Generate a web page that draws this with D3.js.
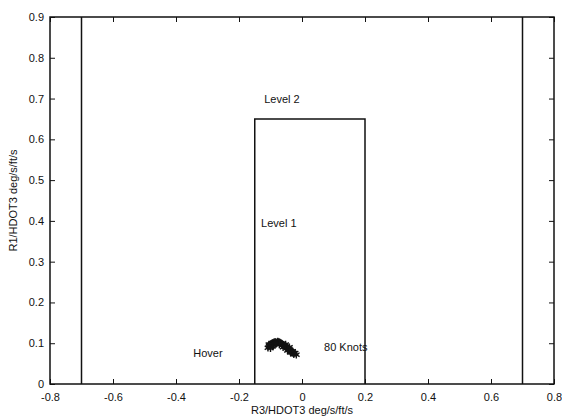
<!DOCTYPE html>
<html>
<head>
<meta charset="utf-8">
<script src="https://cdn.jsdelivr.net/npm/d3@7"></script>
<style>
  body { margin: 0; background: #fff; }
  svg { display: block; font-family: "Liberation Sans", Arial, sans-serif; }
  .tick text { font-size: 11px; fill: #111; }
  .lbl { font-size: 11px; fill: #111; }
</style>
</head>
<body>
<svg id="chart" width="562" height="420"></svg>
<script>
// outer limits, vertical lines at +-0.7
var xTicks = [-0.8, -0.6, -0.4, -0.2, 0, 0.2, 0.4, 0.6, 0.8];
var yTicks = [0, 0.1, 0.2, 0.3, 0.4, 0.5, 0.6, 0.7, 0.8, 0.9];
var outerLines = [
  [[-0.7, 0], [-0.7, 0.9]],
  [[0.7, 0], [0.7, 0.9]]
];
// level 1 / level 2 boundary
var innerBox = [[-0.15, 0], [-0.15, 0.65], [0.2, 0.65], [0.2, 0]];
// measured points, hover to 80 knots
var ptsX = [-0.108, -0.104, -0.101, -0.098, -0.095, -0.092, -0.089, -0.086, -0.083, -0.080,
            -0.077, -0.074, -0.071, -0.068, -0.065, -0.062, -0.059, -0.056, -0.053, -0.050,
            -0.047, -0.044, -0.041, -0.038, -0.035, -0.032, -0.029, -0.026, -0.100, -0.090,
            -0.072, -0.060, -0.046, -0.036, -0.030, -0.105, -0.094, -0.085, -0.052, -0.040,
            -0.022, -0.018];
var ptsY = [0.089, 0.093, 0.096, 0.098, 0.100, 0.101, 0.102, 0.103, 0.103, 0.101,
            0.104, 0.103, 0.102, 0.100, 0.099, 0.097, 0.096, 0.094, 0.092, 0.091,
            0.089, 0.087, 0.085, 0.083, 0.081, 0.078, 0.076, 0.073, 0.088, 0.095,
            0.097, 0.090, 0.082, 0.077, 0.080, 0.097, 0.092, 0.098, 0.097, 0.090,
            0.076, 0.072];
var labels = [
  { text: "Level 2", x: -0.12, y: 0.69 },
  { text: "Level 1", x: -0.13, y: 0.385 },
  { text: "Hover", x: -0.345, y: 0.065 },
  { text: "80 Knots", x: 0.07, y: 0.08 }
];

var margin = { top: 17, right: 8, bottom: 36, left: 50 },
  W = 562, H = 420,
  width = W - margin.left - margin.right,
  height = H - margin.top - margin.bottom;

var svg = d3.select("#chart");
var g = svg.append("g").attr("transform", "translate(" + margin.left + "," + margin.top + ")");

var x = d3.scaleLinear().domain([-0.8, 0.8]).range([0, width]);
var y = d3.scaleLinear().domain([0, 0.9]).range([height, 0]);

// plain hyphen for negatives, like the original plot
var fmt = function (d) { return d === 0 ? "0" : d3.format(".1f")(d).replace("\u2212", "-"); };

g.append("g")
  .attr("transform", "translate(0," + height + ")")
  .call(d3.axisBottom(x).tickValues(xTicks).tickFormat(fmt).tickSizeInner(-5).tickSizeOuter(0).tickPadding(9));
g.append("g")
  .call(d3.axisLeft(y).tickValues(yTicks).tickFormat(fmt).tickSizeInner(-5).tickSizeOuter(0).tickPadding(6));
g.append("g")
  .call(d3.axisTop(x).tickValues(xTicks).tickFormat("").tickSizeInner(-5).tickSizeOuter(0));
g.append("g")
  .attr("transform", "translate(" + width + ",0)")
  .call(d3.axisRight(y).tickValues(yTicks).tickFormat("").tickSizeInner(-5).tickSizeOuter(0));

g.selectAll(".domain").remove();
g.selectAll(".tick line").attr("stroke", "#111");
g.append("rect")
  .attr("width", width).attr("height", height)
  .attr("fill", "none").attr("stroke", "#111").attr("stroke-width", 1.5);

var line = d3.line().x(function (d) { return x(d[0]); }).y(function (d) { return y(d[1]); });

g.selectAll(".outer").data(outerLines).enter().append("path")
  .attr("d", line).attr("fill", "none").attr("stroke", "#111").attr("stroke-width", 1.5);
g.append("path").attr("d", line(innerBox))
  .attr("fill", "none").attr("stroke", "#111").attr("stroke-width", 1.5);

var star = d3.symbol().type(d3.symbolAsterisk).size(40);
g.selectAll(".pt").data(ptsX).enter().append("path")
  .attr("d", star)
  .attr("transform", function (d, i) { return "translate(" + x(d) + "," + y(ptsY[i]) + ")"; })
  .attr("fill", "none").attr("stroke", "#111").attr("stroke-width", 1.4);

g.selectAll(".lbl").data(labels).enter().append("text")
  .attr("class", "lbl")
  .attr("x", function (d) { return x(d.x); })
  .attr("y", function (d) { return y(d.y); })
  .text(function (d) { return d.text; });

svg.append("text").attr("class", "lbl")
  .attr("x", margin.left + x(0)).attr("y", 414)
  .attr("text-anchor", "middle")
  .text("R3/HDOT3 deg/s/ft/s");
svg.append("text").attr("class", "lbl")
  .attr("transform", "translate(17," + (margin.top + y(0.45)) + ") rotate(-90)")
  .attr("text-anchor", "middle")
  .text("R1/HDOT3 deg/s/ft/s");
</script>
</body>
</html>
